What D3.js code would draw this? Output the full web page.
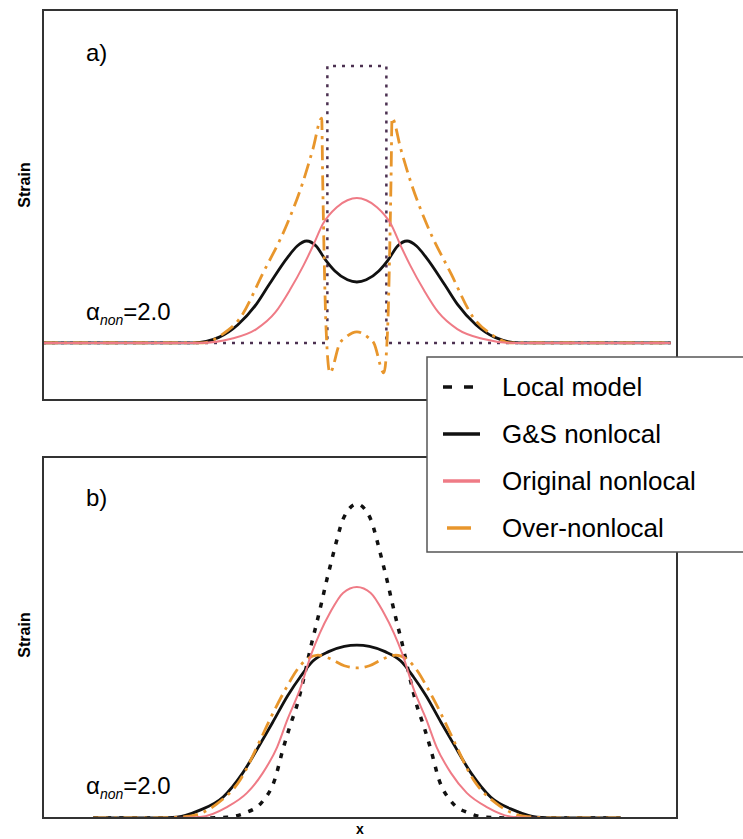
<!DOCTYPE html>
<html>
<head>
<meta charset="utf-8">
<script src="https://cdn.jsdelivr.net/npm/d3@7"></script>
<style>
  body { margin: 0; background: #fff; }
  svg text { font-family: "Liberation Sans", Arial, sans-serif; }
</style>
</head>
<body>
<div id="chart"></div>
<script>
// strain profiles, x in arbitrary units (0 = centre of the band)
// panel a)
var localA = [[-5, 0], [-0.47, 0], [-0.47, 1], [0.47, 1], [0.47, 0], [5, 0]];
var gsA = [[-5, 0], [-2.6, 0], [-2.2, 0.02], [-1.9, 0.065], [-1.6, 0.14], [-1.4, 0.21], [-1.1, 0.31],
  [-0.95, 0.35], [-0.8, 0.368], [-0.65, 0.35], [-0.5, 0.3], [-0.35, 0.26], [-0.15, 0.228], [0, 0.22],
  [0.15, 0.228], [0.35, 0.26], [0.5, 0.3], [0.65, 0.35], [0.8, 0.368], [0.95, 0.35], [1.1, 0.31],
  [1.4, 0.21], [1.6, 0.14], [1.9, 0.065], [2.2, 0.02], [2.6, 0], [5, 0]];
var origA = [[-5, 0], [-2.5, 0], [-2.0, 0.015], [-1.6, 0.05], [-1.3, 0.11], [-1.07, 0.19], [-0.85, 0.28],
  [-0.7, 0.35], [-0.54, 0.43], [-0.32, 0.49], [-0.15, 0.515], [0, 0.523], [0.15, 0.515], [0.32, 0.49],
  [0.54, 0.43], [0.7, 0.35], [0.85, 0.28], [1.07, 0.19], [1.3, 0.11], [1.6, 0.05], [2.0, 0.015],
  [2.5, 0], [5, 0]];
var overA = [[-5, 0], [-2.45, 0], [-2.15, 0.03], [-1.86, 0.09], [-1.5, 0.25], [-1.11, 0.43], [-0.86, 0.58],
  [-0.7, 0.7], [-0.56, 0.812], [-0.545, 0.6], [-0.52, 0.3], [-0.49, 0.05], [-0.43, -0.108], [-0.27, 0],
  [-0.19, 0.018], [0, 0.04], [0.19, 0.018], [0.27, 0], [0.43, -0.108], [0.49, 0.05], [0.52, 0.3],
  [0.545, 0.6], [0.56, 0.812], [0.7, 0.7], [0.86, 0.58], [1.11, 0.43], [1.5, 0.25], [1.86, 0.09],
  [2.15, 0.03], [2.45, 0], [5, 0]];

// panel b)
var localB = [[-4.2, 0], [-2.5, 0], [-2.07, 0.002], [-1.78, 0.016], [-1.51, 0.051], [-1.31, 0.121],
  [-1.18, 0.217], [-1.07, 0.29], [-0.94, 0.369], [-0.86, 0.433], [-0.72, 0.557], [-0.64, 0.621],
  [-0.56, 0.688], [-0.48, 0.758], [-0.4, 0.822], [-0.32, 0.885], [-0.22, 0.952], [0, 1.0],
  [0.22, 0.952], [0.32, 0.885], [0.4, 0.822], [0.48, 0.758], [0.56, 0.688], [0.64, 0.621],
  [0.72, 0.557], [0.86, 0.433], [0.94, 0.369], [1.07, 0.29], [1.18, 0.217], [1.31, 0.121],
  [1.51, 0.051], [1.78, 0.016], [2.07, 0.002], [2.5, 0], [4.2, 0]];
var gsB = [[-4.2, 0], [-3.3, 0], [-2.87, 0.003], [-2.5, 0.025], [-2.13, 0.067], [-1.82, 0.143],
  [-1.54, 0.236], [-1.34, 0.305], [-1.1, 0.39], [-0.9, 0.45], [-0.7, 0.5], [-0.45, 0.53], [-0.2, 0.547],
  [0, 0.551], [0.2, 0.547], [0.45, 0.53], [0.7, 0.5], [0.9, 0.45], [1.1, 0.39], [1.34, 0.305],
  [1.54, 0.236], [1.82, 0.143], [2.13, 0.067], [2.5, 0.025], [2.87, 0.003], [3.3, 0], [4.2, 0]];
var origB = [[-4.2, 0], [-3.0, 0], [-2.5, 0.003], [-2.07, 0.035], [-1.75, 0.08], [-1.5, 0.143],
  [-1.27, 0.226], [-1.11, 0.312], [-0.91, 0.408], [-0.72, 0.525], [-0.59, 0.589], [-0.43, 0.653],
  [-0.22, 0.717], [0, 0.736], [0.22, 0.717], [0.43, 0.653], [0.59, 0.589], [0.72, 0.525], [0.91, 0.408],
  [1.11, 0.312], [1.27, 0.226], [1.5, 0.143], [1.75, 0.08], [2.07, 0.035], [2.5, 0.003], [3.0, 0],
  [4.2, 0]];
var overB = [[-4.2, 0], [-3.2, 0], [-2.66, 0.006], [-2.23, 0.045], [-1.86, 0.121], [-1.54, 0.248],
  [-1.39, 0.312], [-1.11, 0.42], [-0.96, 0.47], [-0.8, 0.505], [-0.62, 0.519], [-0.43, 0.508],
  [-0.2, 0.485], [0, 0.478], [0.2, 0.485], [0.43, 0.508], [0.62, 0.519], [0.8, 0.505], [0.96, 0.47],
  [1.11, 0.42], [1.39, 0.312], [1.54, 0.248], [1.86, 0.121], [2.23, 0.045], [2.66, 0.006], [3.2, 0],
  [4.2, 0]];

var legendLabels = ["Local model", "G&S nonlocal", "Original nonlocal", "Over-nonlocal"];

var width = 743, height = 839;
var left = 43, right = 677;

var svg = d3.select("#chart").append("svg")
  .attr("width", width)
  .attr("height", height);

var x = d3.scaleLinear().domain([-5, 5.1]).range([left, right]);

var panels = [
  { id: "a", top: 10, bottom: 400, yDom: [-0.206, 1.202], strainY: 185, alphaY: 320, tagY: 61,
    local: localA, gs: gsA, orig: origA, over: overA,
    localStyle: { color: "#4b3050", w: 2.5, dash: "3,6" }, localCurve: d3.curveLinear },
  { id: "b", top: 457, bottom: 818, yDom: [0, 1.15], strainY: 635, alphaY: 794, tagY: 506,
    local: localB, gs: gsB, orig: origB, over: overB,
    localStyle: { color: "#111", w: 3.5, dash: "5,8" }, localCurve: d3.curveMonotoneX }
];

panels.forEach(function(p) {
  var y = d3.scaleLinear().domain(p.yDom).range([p.bottom, p.top]);
  var g = svg.append("g");

  g.append("clipPath").attr("id", "clip-" + p.id)
    .append("rect")
    .attr("x", left).attr("y", p.top)
    .attr("width", right - left).attr("height", p.bottom - p.top);

  var line = d3.line()
    .x(function(d) { return x(d[0]); })
    .y(function(d) { return y(d[1]); })
    .curve(d3.curveMonotoneX);

  var curves = g.append("g").attr("clip-path", "url(#clip-" + p.id + ")");

  curves.append("path")
    .datum(p.local)
    .attr("d", line.curve(p.localCurve))
    .attr("fill", "none")
    .attr("stroke", p.localStyle.color)
    .attr("stroke-width", p.localStyle.w)
    .attr("stroke-dasharray", p.localStyle.dash);
  line.curve(d3.curveMonotoneX);

  curves.append("path")
    .datum(p.gs)
    .attr("d", line)
    .attr("fill", "none")
    .attr("stroke", "#111")
    .attr("stroke-width", 2.8);

  curves.append("path")
    .datum(p.over)
    .attr("d", line)
    .attr("fill", "none")
    .attr("stroke", "#e8962c")
    .attr("stroke-width", 2.8)
    .attr("stroke-dasharray", "15,6,3,6");

  curves.append("path")
    .datum(p.orig)
    .attr("d", line)
    .attr("fill", "none")
    .attr("stroke", "#ef7b86")
    .attr("stroke-width", 2);

  // frame
  g.append("rect")
    .attr("x", left).attr("y", p.top)
    .attr("width", right - left).attr("height", p.bottom - p.top)
    .attr("fill", "none")
    .attr("stroke", "#333")
    .attr("stroke-width", 2);

  g.append("text")
    .attr("x", 86).attr("y", p.tagY)
    .style("font-size", "24px")
    .text(p.id + ")");

  g.append("text")
    .attr("transform", "translate(30," + p.strainY + ") rotate(-90)")
    .attr("text-anchor", "middle")
    .style("font-size", "16px")
    .style("font-weight", "bold")
    .text("Strain");

  var alpha = g.append("text")
    .attr("x", 86).attr("y", p.alphaY)
    .style("font-size", "24px");
  alpha.append("tspan").text("α");
  alpha.append("tspan").attr("dy", 5).style("font-size", "14px").style("font-style", "italic").text("non");
  alpha.append("tspan").attr("dy", -5).text("=2.0");
});

svg.append("text")
  .attr("x", 360).attr("y", 834)
  .attr("text-anchor", "middle")
  .style("font-size", "14px")
  .style("font-weight", "bold")
  .text("x");

// legend
var lg = svg.append("g").attr("transform", "translate(427,357)");
lg.append("rect")
  .attr("width", 340).attr("height", 195)
  .attr("fill", "#fff")
  .attr("stroke", "#555")
  .attr("stroke-width", 1.5);

var legendStyles = [
  { color: "#111", w: 3.5, dash: "9,12", x1: 16, x2: 48 },
  { color: "#111", w: 3.5, dash: "none", x1: 16, x2: 53 },
  { color: "#ef7b86", w: 3.5, dash: "none", x1: 16, x2: 53 },
  { color: "#e8962c", w: 3.5, dash: "none", x1: 20, x2: 44 }
];

var item = lg.selectAll("g.item")
  .data(legendLabels)
  .enter().append("g")
  .attr("class", "item")
  .attr("transform", function(d, i) { return "translate(0," + (30 + i * 47) + ")"; });

item.append("line")
  .attr("x1", function(d, i) { return legendStyles[i].x1; })
  .attr("x2", function(d, i) { return legendStyles[i].x2; })
  .attr("y1", 0).attr("y2", 0)
  .attr("stroke", function(d, i) { return legendStyles[i].color; })
  .attr("stroke-width", function(d, i) { return legendStyles[i].w; })
  .attr("stroke-dasharray", function(d, i) { return legendStyles[i].dash; });

item.append("text")
  .attr("x", 75)
  .attr("y", 9)
  .style("font-size", "26px")
  .text(function(d) { return d; });
</script>
</body>
</html>
